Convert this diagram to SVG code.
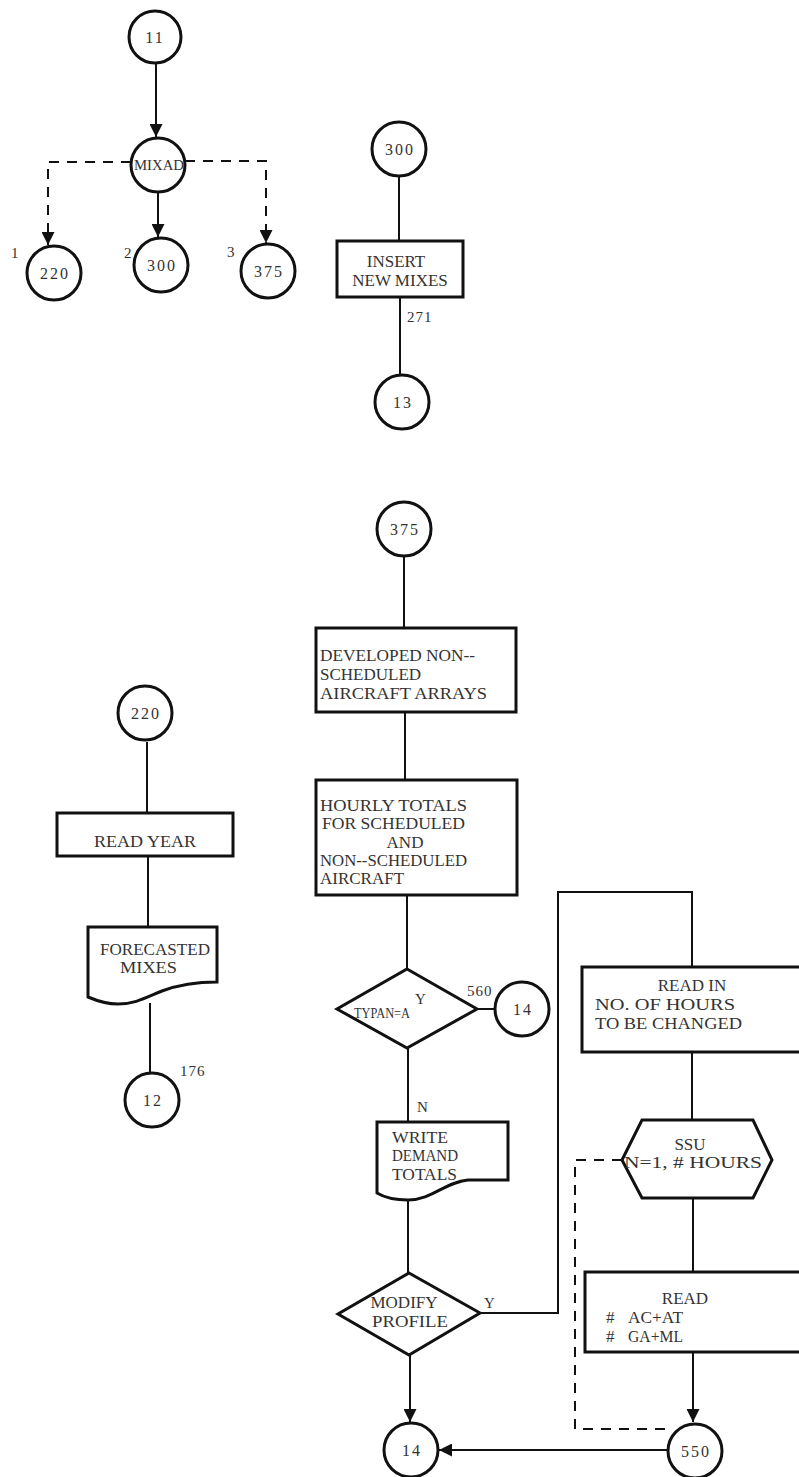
<svg xmlns="http://www.w3.org/2000/svg" width="799" height="1477" viewBox="0 0 799 1477">
<style>
.n{fill:#fff;stroke:#111;stroke-width:3}
.b{fill:#fff;stroke:#111;stroke-width:3}
.t{font-family:"Liberation Serif",serif;font-size:17px;fill:#333}
.m{text-anchor:middle}
.num{font-family:"Liberation Serif",serif;font-size:16px;fill:#333;text-anchor:middle;letter-spacing:2px}
.s{font-family:"Liberation Serif",serif;font-size:15px;fill:#333}
.c{stroke:#111;stroke-width:2;fill:none}
.d{stroke-dasharray:10 8}
</style>
<defs>
<marker id="ah" viewBox="0 0 10 10" refX="10" refY="5" markerWidth="22" markerHeight="13" markerUnits="userSpaceOnUse" orient="auto">
<path d="M0,0 L10,5 L0,10 Z" fill="#111"/>
</marker>
</defs>
<rect width="799" height="1477" fill="#fff"/>
<g id="connectors">
<path class="c" d="M156,64 V137" marker-end="url(#ah)"/>
<path class="c" d="M158,193 V237" marker-end="url(#ah)"/>
<path class="c d" d="M131,162 H48 V245" marker-end="url(#ah)"/>
<path class="c d" d="M185,161 H266 V243" marker-end="url(#ah)"/>
<path class="c" d="M399,176 V241"/>
<path class="c" d="M400,297 V375"/>
<path class="c" d="M404,557 V628"/>
<path class="c" d="M405,712 V780"/>
<path class="c" d="M407,895 V969"/>
<path class="c" d="M477,1009 H495"/>
<path class="c" d="M408,1048 V1122"/>
<path class="c" d="M408,1200 V1273"/>
<path class="c" d="M410,1355 V1422" marker-end="url(#ah)"/>
<path class="c" d="M480,1313 H558 V892 H692 V967"/>
<path class="c" d="M692,1052 V1120"/>
<path class="c" d="M693,1198 V1272"/>
<path class="c" d="M693,1352 V1422" marker-end="url(#ah)"/>
<path class="c d" d="M622,1160 H575 V1429 H672"/>
<path class="c" d="M667,1450 H439" marker-end="url(#ah)"/>
<path class="c" d="M147,742 V813"/>
<path class="c" d="M148,856 V927"/>
<path class="c" d="M150,1003 V1072"/>
</g>
<g id="n11"><circle class="n" cx="155" cy="37" r="26"/><text class="num" x="155" y="43">11</text></g>
<g id="mixad"><circle class="n" cx="158" cy="165" r="27"/><text class="s m" x="159" y="170" textLength="50" lengthAdjust="spacingAndGlyphs">MIXAD</text></g>
<g id="n220a"><circle class="n" cx="54" cy="273" r="27"/><text class="num" x="55" y="279">220</text><text class="s" x="11" y="258">1</text></g>
<g id="n300a"><circle class="n" cx="161" cy="265" r="27"/><text class="num" x="162" y="271">300</text><text class="s" x="124" y="258">2</text></g>
<g id="n375a"><circle class="n" cx="268" cy="271" r="27"/><text class="num" x="269" y="277">375</text><text class="s" x="227" y="257">3</text></g>
<g id="n300"><circle class="n" cx="399" cy="149" r="27"/><text class="num" x="400" y="155">300</text></g>
<g id="insert"><rect class="b" x="337" y="241" width="126" height="56"/><text class="t m" x="396" y="267">INSERT</text><text class="t m" x="400" y="286">NEW MIXES</text></g>
<g id="l271"><text class="s" x="407" y="322" letter-spacing="1">271</text></g>
<g id="n13"><circle class="n" cx="402" cy="402" r="27"/><text class="num" x="403" y="408">13</text></g>
<g id="n375"><circle class="n" cx="404" cy="529" r="27"/><text class="num" x="405" y="535">375</text></g>
<g id="developed"><rect class="b" x="316" y="628" width="200" height="84"/>
<text class="t" x="320" y="661" textLength="155" lengthAdjust="spacingAndGlyphs">DEVELOPED NON--</text>
<text class="t" x="320" y="680">SCHEDULED</text>
<text class="t" x="320" y="699" textLength="167" lengthAdjust="spacingAndGlyphs">AIRCRAFT ARRAYS</text></g>
<g id="hourly"><rect class="b" x="316" y="780" width="201" height="115"/>
<text class="t" x="320" y="811" textLength="147" lengthAdjust="spacingAndGlyphs">HOURLY TOTALS</text>
<text class="t" x="322" y="829" textLength="143" lengthAdjust="spacingAndGlyphs">FOR SCHEDULED</text>
<text class="t m" x="405" y="848">AND</text>
<text class="t" x="320" y="866" textLength="147" lengthAdjust="spacingAndGlyphs">NON--SCHEDULED</text>
<text class="t" x="320" y="884">AIRCRAFT</text></g>
<g id="typan"><polygon class="b" points="407,969 477,1009 407,1048 337,1009"/>
<text class="s" x="354" y="1018" textLength="56" lengthAdjust="spacingAndGlyphs">TYPAN=A</text>
<text class="s" x="415" y="1004" font-size="13">Y</text>
<text class="s" x="467" y="996" letter-spacing="1">560</text></g>
<g id="n14a"><circle class="n" cx="522" cy="1009" r="27"/><text class="num" x="523" y="1015">14</text></g>
<g id="write"><path class="b" d="M377,1122 H508 V1180 H468 C445,1182 432,1200 408,1200 C392,1200 382,1196 377,1193 Z"/>
<text class="s" x="417" y="1112">N</text>
<text class="t" x="392" y="1143" textLength="56" lengthAdjust="spacingAndGlyphs">WRITE</text>
<text class="t" x="392" y="1161" textLength="66" lengthAdjust="spacingAndGlyphs">DEMAND</text>
<text class="t" x="392" y="1180" textLength="65" lengthAdjust="spacingAndGlyphs">TOTALS</text></g>
<g id="modify"><polygon class="b" points="409,1273 480,1313 409,1355 338,1314"/>
<text class="t m" x="404" y="1308" textLength="67" lengthAdjust="spacingAndGlyphs">MODIFY</text>
<text class="t m" x="410" y="1327" textLength="76" lengthAdjust="spacingAndGlyphs">PROFILE</text>
<text class="s" x="484" y="1308">Y</text></g>
<g id="n14b"><circle class="n" cx="411" cy="1450" r="27"/><text class="num" x="412" y="1456">14</text></g>
<g id="readin"><rect class="b" x="582" y="967" width="240" height="85"/>
<text class="t m" x="692" y="991">READ IN</text>
<text class="t" x="595" y="1010" textLength="140" lengthAdjust="spacingAndGlyphs">NO. OF HOURS</text>
<text class="t" x="595" y="1029" textLength="147" lengthAdjust="spacingAndGlyphs">TO BE CHANGED</text></g>
<g id="ssu"><polygon class="b" points="642,1120 753,1120 772,1160 753,1198 642,1198 622,1160"/>
<text class="t m" x="690" y="1150">SSU</text>
<text class="t" x="624" y="1168" textLength="138" lengthAdjust="spacingAndGlyphs">N=1, # HOURS</text></g>
<g id="read"><rect class="b" x="585" y="1272" width="240" height="80"/>
<text class="t m" x="685" y="1304">READ</text>
<text class="t" x="606" y="1323">#</text><text class="t" x="628" y="1323" textLength="55" lengthAdjust="spacingAndGlyphs">AC+AT</text>
<text class="t" x="606" y="1342">#</text><text class="t" x="628" y="1342" textLength="55" lengthAdjust="spacingAndGlyphs">GA+ML</text></g>
<g id="n550"><circle class="n" cx="695" cy="1451" r="27"/><text class="num" x="696" y="1457">550</text></g>
<g id="n220"><circle class="n" cx="145" cy="713" r="27"/><text class="num" x="146" y="719">220</text></g>
<g id="readyear"><rect class="b" x="57" y="813" width="176" height="43"/><text class="t m" x="145" y="847" textLength="102" lengthAdjust="spacingAndGlyphs">READ YEAR</text></g>
<g id="forecasted"><path class="b" d="M88,927 H217 V982 C195,982 178,985 162,991 C145,998 135,1004 118,1004 C105,1004 95,1000 88,997 Z"/>
<text class="t" x="100" y="955" textLength="110" lengthAdjust="spacingAndGlyphs">FORECASTED</text>
<text class="t" x="120" y="973" textLength="57" lengthAdjust="spacingAndGlyphs">MIXES</text></g>
<g id="n12"><circle class="n" cx="152" cy="1100" r="27"/><text class="num" x="153" y="1106">12</text><text class="s" x="180" y="1076" letter-spacing="1">176</text></g>
</svg>
